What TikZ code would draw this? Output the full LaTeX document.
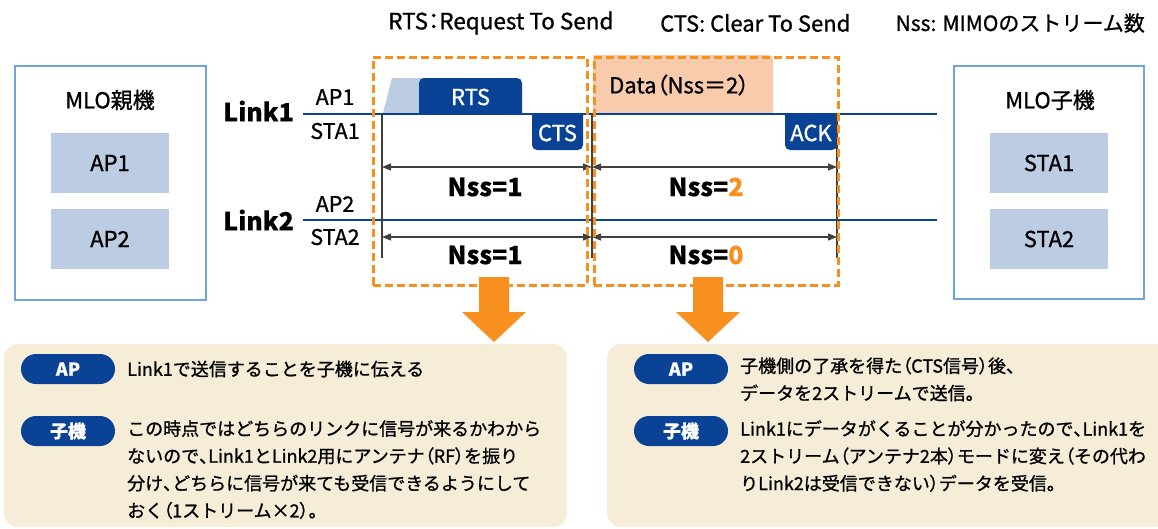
\documentclass[tikz,border=0pt]{standalone}
\usepackage{fontspec}
\setmainfont{Noto Sans CJK JP}[UprightFeatures={FakeBold=1.0}, BoldFeatures={FakeBold=0.4}]
\usetikzlibrary{arrows.meta}

\definecolor{navy}{HTML}{0A4396}
\definecolor{paleblue}{HTML}{BCCCE3}
\definecolor{frameblue}{HTML}{6FA4D9}
\definecolor{orangeC}{HTML}{F7901E}
\definecolor{peach}{HTML}{F8CBAD}
\definecolor{cream}{HTML}{F5EDD7}
\definecolor{dimgrey}{HTML}{404040}

\newcommand\fsz[1]{\fontsize{#1}{#1}\selectfont}
% proportional (half-width) Japanese punctuation
\newcommand\pp[1]{{\addfontfeature{RawFeature=+palt}#1}}

\tikzset{
  txt/.style={inner sep=0pt, text=black},
  devbox/.style={draw=frameblue, line width=2pt, fill=white},
  unitbox/.style={fill=paleblue, minimum width=118pt, minimum height=60pt, inner sep=0pt, font=\fsz{22}},
  linkline/.style={draw=navy, line width=2.8pt},
  guide/.style={draw=dimgrey, line width=1.1pt},
  dimline/.style={draw=dimgrey, line width=1.2pt,
    {Triangle[length=9pt,width=7pt]}-{Triangle[length=9pt,width=7pt]}},
  window/.style={draw=orangeC, line width=3pt, dash pattern=on 8pt off 4pt},
  frame/.style={fill=navy},
  whitetxt/.style={inner sep=0pt, text=white, font=\fsz{22}},
  nsslbl/.style={inner sep=0pt, font=\fsz{25}\bfseries},
  panel/.style={fill=cream, rounded corners=14pt, inner sep=0pt},
  pill/.style={fill=navy, text=white, rounded corners=15pt, minimum width=94pt,
    minimum height=30pt, inner sep=0pt, font=\fsz{18}\bfseries},
  body/.style={inner sep=0pt, anchor=north west, align=left, font=\fontsize{18}{27.3}\selectfont},
  fatarrow/.pic={\fill[orangeC] (-15,0) -- (-15,35) -- (-32,35) -- (0,65) -- (32,35) -- (15,35) -- (15,0) -- cycle;}
}

\begin{document}
\begin{tikzpicture}[x=1pt, y=-1pt]
\useasboundingbox (0,0) rectangle (1158,528);

% legend line
\node[txt, anchor=west, font=\fsz{22.5}] (rtsdef) at (388,23) {RTS\pp{：}Request To Send};
\node[txt, anchor=west, font=\fsz{22}] (ctsdef) at (660,23) {CTS: Clear To Send};
\node[txt, anchor=east, font=\fsz{21}] (nssdef) at (1145,23) {Nss: MIMOのストリーム数};

% parent device
\node[devbox, minimum width=191pt, minimum height=234pt] (parent) at (110.5,183) {};
\node[txt, font=\fsz{22}] (ptitle) at (110,100) {MLO親機};
\node[unitbox] (pap1) at (110,163) {AP1};
\node[unitbox] (pap2) at (110,239) {AP2};

% child device
\node[devbox, minimum width=190pt, minimum height=233pt] (child) at (1049,182.5) {};
\node[txt, font=\fsz{22}] (ctitle) at (1050,100) {MLO子機};
\node[unitbox] (csta1) at (1049,163) {STA1};
\node[unitbox] (csta2) at (1049,239) {STA2};

% summary panels
\node[panel, minimum width=563pt, minimum height=183pt] (lpanel) at (285.5,435.5) {};
\node[panel, minimum width=568pt, minimum height=183pt] (rpanel) at (891,435.5) {};

% data frame on link 1
\fill[peach] (593,113) -- (593,55) [rounded corners=4pt] -- (773,55) [sharp corners] -- (773,113) -- cycle;
\node[txt, anchor=west, font=\fsz{22}] (data) at (609,85) {Data\pp{（}Nss\pp{＝}2\pp{）}};

% RTS frame with its leading ramp
\fill[paleblue] (383,113) -- (392,78) -- (430,78) -- (430,113) -- cycle;
\fill[frame] (419,113) [rounded corners=5pt] -- (419,78) -- (522,78) [sharp corners] -- (522,113) -- cycle;
\node[whitetxt] (rts) at (470.5,97) {RTS};

% link timelines
\coordinate (l1s) at (303,114);
\coordinate (l1e) at (937,114);
\coordinate (l2s) at (303,220);
\coordinate (l2e) at (937,220);
\draw[linkline] (l1s) -- (l1e);
\draw[linkline] (l2s) -- (l2e);

% CTS and ACK replies
\fill[frame] (532,115) [rounded corners=5pt] -- (532,150) -- (583,150) [sharp corners] -- (583,115) -- cycle;
\node[whitetxt] (cts) at (557.5,133) {CTS};
\fill[frame] (785,115) [rounded corners=5pt] -- (785,150) -- (837,150) [sharp corners] -- (837,115) -- cycle;
\node[whitetxt] (ack) at (811,133) {ACK};

% link and station labels
\node[txt, anchor=east, font=\fsz{25}\bfseries] (link1) at (294,111) {Link1};
\node[txt, anchor=east, font=\fsz{25}\bfseries] (link2) at (294,220) {Link2};
\node[txt, font=\fsz{21.5}] (lap1) at (335,97) {AP1};
\node[txt, font=\fsz{21.5}] (lsta1) at (335,131) {STA1};
\node[txt, font=\fsz{21.5}] (lap2) at (335,204) {AP2};
\node[txt, font=\fsz{21.5}] (lsta2) at (335,237) {STA2};

% time marks
\coordinate (t1top) at (382,114);  \coordinate (t1bot) at (382,258);
\coordinate (t2top) at (592,114);  \coordinate (t2bot) at (592,258);
\coordinate (t3top) at (837,114);  \coordinate (t3bot) at (837,258);
\draw[guide] (t1top) -- (t1bot);
\draw[guide] (t2top) -- (t2bot);
\draw[guide] (t3top) -- (t3bot);

% interval arrows
\coordinate (a1) at (382,167); \coordinate (a2) at (592,167); \coordinate (a3) at (837,167);
\coordinate (b1) at (382,237); \coordinate (b2) at (592,237); \coordinate (b3) at (837,237);
\draw[dimline] (a1) -- (a2);
\draw[dimline] (a2) -- (a3);
\draw[dimline] (b1) -- (b2);
\draw[dimline] (b2) -- (b3);

\node[nsslbl] (n1a) at (485,187) {Nss=1};
\node[nsslbl] (n2a) at (706,187) {Nss=\textcolor{orangeC}{2}};
\node[nsslbl] (n1b) at (485,255) {Nss=1};
\node[nsslbl] (n2b) at (706,255) {Nss=\textcolor{orangeC}{0}};

% phase windows
\node[window, minimum width=214pt, minimum height=228pt, inner sep=0pt] (win1) at (480,171) {};
\node[window, minimum width=244pt, minimum height=228pt, inner sep=0pt] (win2) at (716,171) {};

% phase arrows
\pic at (494,277) {fatarrow};
\pic at (708,277) {fatarrow};

% left panel text
\node[pill] (lpap) at (68,369) {AP};
\node[pill] (lpsta) at (68,431) {子機};
\node[txt, anchor=west, font=\fsz{18}] (lapt) at (127,369) {Link1で送信することを子機に伝える};
\node[body] (lstat) at (127,420) {この時点ではどちらのリンクに信号が来るかわから\\ないので\pp{、}Link1とLink2用にアンテナ\pp{（}RF\pp{）}を振り\\分け\pp{、}どちらに信号が来ても受信できるようにして\\おく\pp{（}1ストリーム×2\pp{）}。};

% right panel text
\node[pill] (rpap) at (681,369) {AP};
\node[pill] (rpsta) at (681,431) {子機};
\node[body] (rapt) at (740,357) {子機側の了承を得た\pp{（}CTS信号\pp{）}後、\\データを2ストリームで送信。};
\node[body] (rstat) at (740,420) {Link1にデータがくることが分かったので\pp{、}Link1を\\2ストリーム\pp{（}アンテナ2本\pp{）}モードに変え\pp{（}その代わ\\りLink2は受信できない\pp{）}データを受信。};
\end{tikzpicture}
\end{document}
